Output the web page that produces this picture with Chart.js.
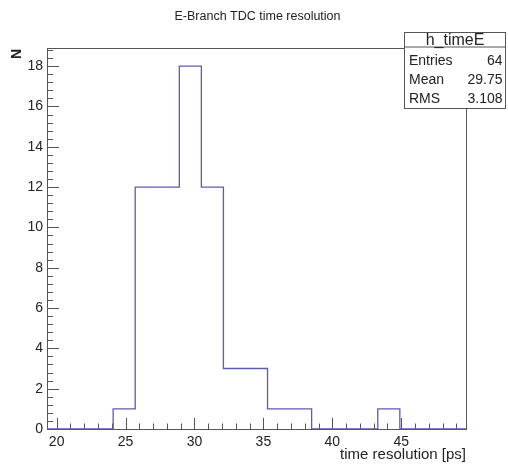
<!DOCTYPE html>
<html>
<head>
<meta charset="utf-8">
<script src="https://cdn.jsdelivr.net/npm/chart.js@4/dist/chart.umd.min.js"></script>
<style>
  html, body { margin: 0; padding: 0; background: #fff; }
  #wrap { width: 508px; height: 465px; }
</style>
</head>
<body>
<div id="wrap"><canvas id="hist" width="508" height="465"></canvas></div>
<script>
  // histogram h_timeE, bin edges and counts
  const binEdges = [19.3, 20.9, 22.5, 24.1, 25.7, 27.3, 28.9, 30.5, 32.1, 33.7,
                    35.3, 36.9, 38.5, 40.1, 41.7, 43.3, 44.9, 46.5, 48.1, 49.7];
  const binCounts = [0, 0, 0, 1, 12, 12, 18, 12, 3, 3, 1, 1, 0, 0, 0, 1, 0, 0, 0];
  const xTicks = [20, 25, 30, 35, 40, 45];
  const yTicks = [0, 2, 4, 6, 8, 10, 12, 14, 16, 18];
  const statsRows = [["Entries", "64"], ["Mean", "29.75"], ["RMS", "3.108"]];
  const histName = "h_timeE";
  const title = "E-Branch TDC time resolution";
  const xTitle = "time resolution [ps]";
  const yTitle = "N";

  const FONT = "'Liberation Sans', Arial, sans-serif";
  const AXIS_COL = "#555";
  const TEXT_COL = "#222";

  function histPoints(){
    const pts = [];
    for (let i = 0; i < binCounts.length; i++){
      pts.push({ x: binEdges[i], y: binCounts[i] });
      pts.push({ x: binEdges[i + 1], y: binCounts[i] });
    }
    return pts;
  }

  const rootFrame = {
    id: "rootFrame",
    beforeDatasetsDraw(chart){
      const { ctx, chartArea: a, scales: { x, y } } = chart;
      ctx.save();
      ctx.strokeStyle = AXIS_COL;
      ctx.lineWidth = 1;
      ctx.strokeRect(a.left + 0.5, a.top + 0.5, a.right - a.left, a.bottom - a.top);
      ctx.beginPath();
      // x ticks, inward
      for (let v = 20; v <= 49; v++){
        const px = Math.round(x.getPixelForValue(v)) + 0.5;
        const len = v % 5 === 0 ? 11 : 5.5;
        ctx.moveTo(px, a.bottom);
        ctx.lineTo(px, a.bottom - len);
      }
      // y ticks, inward
      for (let k = 0; k <= 47; k++){
        const v = k * 0.4;
        const py = Math.round(y.getPixelForValue(v)) + 0.5;
        const len = k % 5 === 0 ? 12 : 6;
        ctx.moveTo(a.left, py);
        ctx.lineTo(a.left + len, py);
      }
      ctx.stroke();
      ctx.restore();
    },
    afterDraw(chart){
      const { ctx, chartArea: a } = chart;
      ctx.save();
      ctx.fillStyle = TEXT_COL;
      // title
      ctx.font = "12.5px " + FONT;
      ctx.textAlign = "center";
      ctx.textBaseline = "middle";
      ctx.fillText(title, 257.5, 17);
      // x axis title
      ctx.font = "15px " + FONT;
      ctx.textAlign = "right";
      ctx.fillText(xTitle, a.right, 455);
      // y axis title
      ctx.save();
      ctx.translate(17, 54);
      ctx.rotate(-Math.PI / 2);
      ctx.font = "bold 14px " + FONT;
      ctx.textAlign = "center";
      ctx.fillText(yTitle, 0, 0);
      ctx.restore();
      // stats box
      const bx = 404.5, by = 32.5, bw = 101, bh = 76, hh = 14.5;
      ctx.fillStyle = "#fff";
      ctx.fillRect(bx, by, bw, bh);
      ctx.strokeStyle = AXIS_COL;
      ctx.lineWidth = 1;
      ctx.strokeRect(bx, by, bw, bh);
      ctx.beginPath();
      ctx.moveTo(bx, by + hh);
      ctx.lineTo(bx + bw, by + hh);
      ctx.stroke();
      ctx.fillStyle = TEXT_COL;
      ctx.font = "16px " + FONT;
      ctx.textAlign = "center";
      ctx.fillText(histName, bx + bw / 2, by + 8.5);
      ctx.font = "14px " + FONT;
      statsRows.forEach((r, i) => {
        const ty = 61.5 + i * 18.8;
        ctx.textAlign = "left";
        ctx.fillText(r[0], bx + 4.5, ty);
        ctx.textAlign = "right";
        ctx.fillText(r[1], bx + bw - 3, ty);
      });
      ctx.restore();
    }
  };

  new Chart(document.getElementById("hist"), {
    type: "line",
    data: {
      datasets: [{
        data: histPoints(),
        borderColor: "#5c5cb0",
        borderWidth: 1.3,
        pointRadius: 0,
        tension: 0,
        fill: false
      }]
    },
    options: {
      responsive: false,
      animation: false,
      layout: { padding: { top: 48, right: 42, left: 0, bottom: 0 } },
      plugins: { legend: { display: false }, tooltip: { enabled: false } },
      scales: {
        x: {
          type: "linear",
          min: binEdges[0],
          max: binEdges[binEdges.length - 1],
          grid: { display: false, drawTicks: false },
          border: { display: false },
          afterBuildTicks: s => { s.ticks = xTicks.map(v => ({ value: v })); },
          afterFit: s => { s.height = 36; },
          ticks: { color: TEXT_COL, font: { family: FONT, size: 14 }, padding: 5, maxRotation: 0 }
        },
        y: {
          min: 0,
          max: 18.9,
          grid: { display: false, drawTicks: false },
          border: { display: false },
          afterBuildTicks: s => { s.ticks = yTicks.map(v => ({ value: v })); },
          afterFit: s => { s.width = 47; },
          ticks: { color: TEXT_COL, font: { family: FONT, size: 14 }, padding: 4 }
        }
      }
    },
    plugins: [rootFrame]
  });
</script>
</body>
</html>
